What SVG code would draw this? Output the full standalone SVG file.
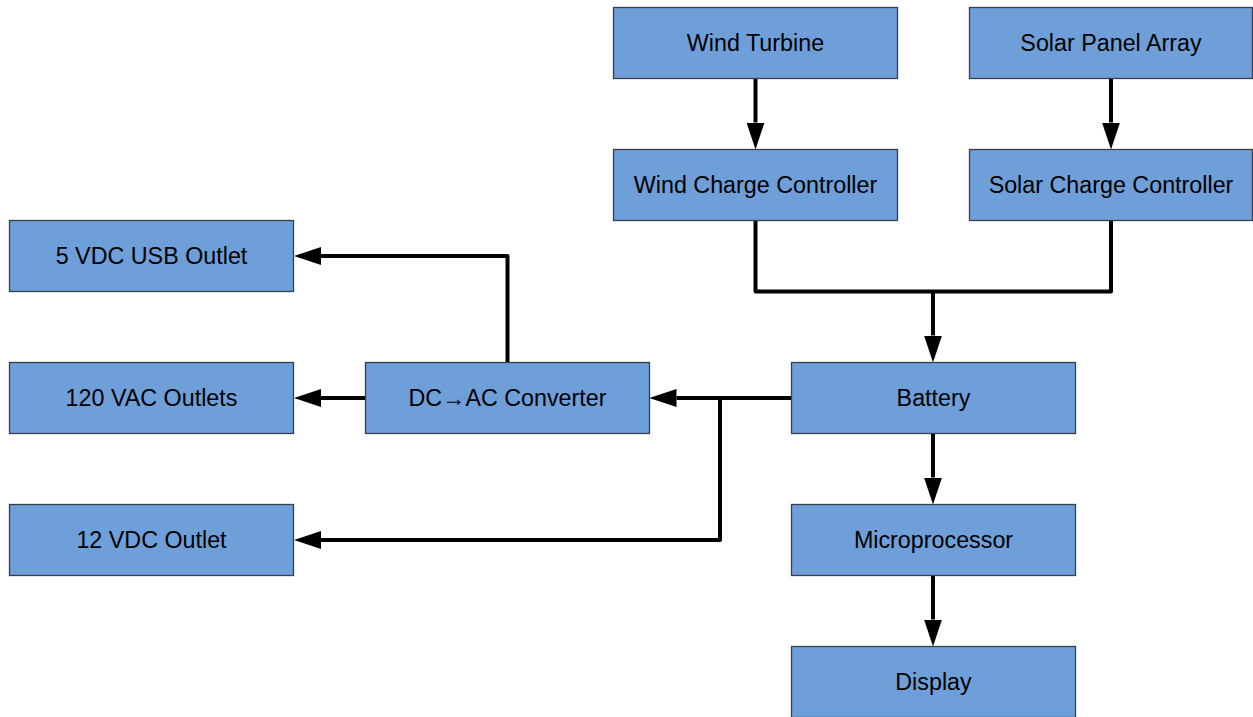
<svg xmlns="http://www.w3.org/2000/svg" width="1253" height="717" viewBox="0 0 1253 717">
<style>
.box{fill:#6f9fd9;stroke:#3a3f47;stroke-width:1.3}
.lbl{font-family:"Liberation Sans",Arial,sans-serif;font-size:23.3px;fill:#000;text-anchor:middle}
.wire{fill:none;stroke:#000;stroke-width:4;stroke-linejoin:round}
.arr{marker-end:url(#ah)}
</style>
<defs>
<marker id="ah" markerUnits="userSpaceOnUse" viewBox="0 0 27 18" markerWidth="27" markerHeight="18" refX="0" refY="9" orient="auto">
<path d="M0,0 L27,9 L0,18 z" fill="#000"/>
</marker>
</defs>
<rect width="1253" height="717" fill="#fff"/>
<g id="connectors">
<path class="wire arr" d="M755.5,78.5 V122.5"/>
<path class="wire arr" d="M1111,78.5 V122.5"/>
<path class="wire" d="M755.5,220.5 V291.5 H1111 V220.5"/>
<path class="wire arr" d="M933,291.5 V335.5"/>
<path class="wire arr" d="M791.5,398 H676.5"/>
<path class="wire arr" d="M720,398 V540 H321"/>
<path class="wire arr" d="M507.5,362.5 V256 H321"/>
<path class="wire arr" d="M365.5,398 H321"/>
<path class="wire arr" d="M933,433.5 V477.5"/>
<path class="wire arr" d="M933,575.5 V619.5"/>
</g>
<g id="wind-turbine"><rect class="box" x="613.5" y="7.5" width="284" height="71"/><text class="lbl" x="755.5" y="50.5">Wind Turbine</text></g>
<g id="solar-panel-array"><rect class="box" x="969.5" y="7.5" width="283" height="71"/><text class="lbl" x="1111" y="50.5">Solar Panel Array</text></g>
<g id="wind-charge-controller"><rect class="box" x="613.5" y="149.5" width="284" height="71"/><text class="lbl" x="755.5" y="192.5">Wind Charge Controller</text></g>
<g id="solar-charge-controller"><rect class="box" x="969.5" y="149.5" width="283" height="71"/><text class="lbl" x="1111" y="192.5">Solar Charge Controller</text></g>
<g id="usb-outlet"><rect class="box" x="9.5" y="220.5" width="284" height="71"/><text class="lbl" x="151.5" y="263.5">5 VDC USB Outlet</text></g>
<g id="ac-outlets"><rect class="box" x="9.5" y="362.5" width="284" height="71"/><text class="lbl" x="151.5" y="405.5">120 VAC Outlets</text></g>
<g id="dc-ac-converter"><rect class="box" x="365.5" y="362.5" width="284" height="71"/><text class="lbl" x="507.5" y="405.5">DC→AC Converter</text></g>
<g id="battery"><rect class="box" x="791.5" y="362.5" width="284" height="71"/><text class="lbl" x="933.5" y="405.5">Battery</text></g>
<g id="dc-outlet"><rect class="box" x="9.5" y="504.5" width="284" height="71"/><text class="lbl" x="151.5" y="547.5">12 VDC Outlet</text></g>
<g id="microprocessor"><rect class="box" x="791.5" y="504.5" width="284" height="71"/><text class="lbl" x="933.5" y="547.5">Microprocessor</text></g>
<g id="display"><rect class="box" x="791.5" y="646.5" width="284" height="71"/><text class="lbl" x="933.5" y="689.5">Display</text></g>
</svg>
